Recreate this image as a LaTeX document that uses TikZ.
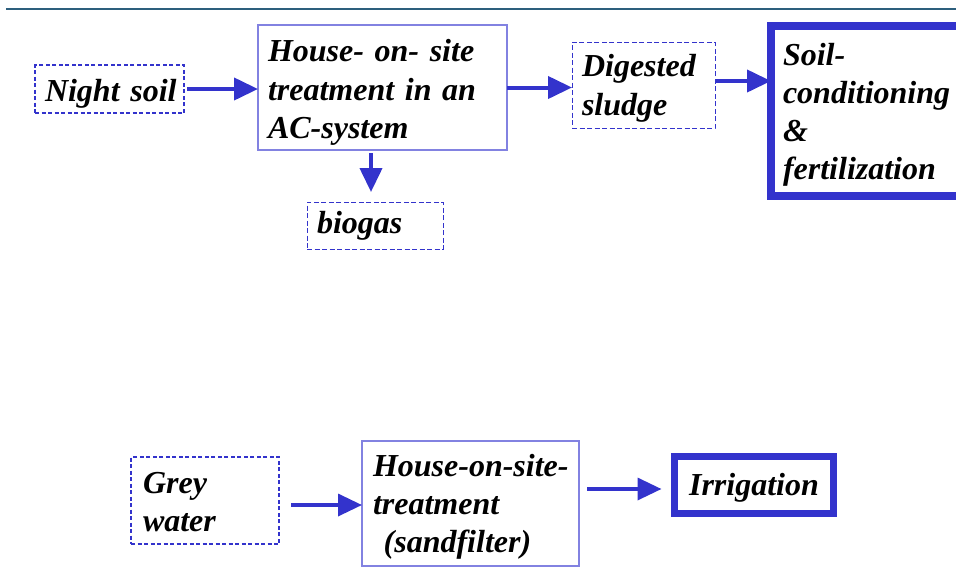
\documentclass[tikz,border=0pt]{standalone}
\usepackage{fontspec}
\setmainfont{Liberation Serif}
\usetikzlibrary{arrows.meta}
\definecolor{arrblue}{RGB}{51,51,204}
\definecolor{thinblue}{RGB}{130,130,225}
\definecolor{rulecol}{RGB}{45,95,125}
\begin{document}
\begin{tikzpicture}[x=1pt,y=-1pt,
  lbl/.style={font=\fontsize{32}{38.3}\selectfont\bfseries\itshape, align=left, outer sep=0pt, inner ysep=0pt, text height=25pt},
  dashbox/.style={lbl, draw=arrblue, line width=1.3pt, dash pattern=on 4pt off 2.5pt},
  dashthin/.style={lbl, draw=arrblue, line width=1pt, dash pattern=on 5pt off 2.5pt},
  thinbox/.style={lbl, draw=thinblue, line width=1.3pt},
  thickbox/.style={lbl, draw=arrblue, line width=8pt},
  arr/.style={draw=arrblue, line width=4pt, -{Triangle[length=24pt,width=22pt]}},
  arrb/.style={draw=arrblue, line width=3.5pt, -{Triangle[length=24pt,width=22pt]}}
]
\useasboundingbox (0,0) rectangle (956,582);
\clip (0,0) rectangle (956,582);
\draw[rulecol, line width=2pt] (6,9) -- (956,9);

\node[dashbox, minimum width=149, minimum height=48, text width=129, inner xsep=10, text depth=0pt] (night) at (109.5,89) {\mbox{Night soil}};
\node[thinbox, minimum width=249, minimum height=125, text width=229, inner xsep=10, text depth=76.6pt] (house) at (382.5,87.5) {\mbox{House- on- site}\\\mbox{treatment in an}\\AC-system};
\node[dashthin, minimum width=136, minimum height=47, text width=116, inner xsep=10, text depth=10pt] (biogas) at (375,225.5) {biogas};
\node[dashthin, minimum width=143, minimum height=86, text width=123, inner xsep=10, text depth=41.6pt] (dig) at (643.5,85) {Digested\\sludge};
\node[thickbox, minimum width=219, minimum height=170, text width=195, inner xsep=12, text depth=117pt] (soil) at (880.5,111) {Soil-\\conditioning\\\&\\fertilization};

\node[dashbox, minimum width=148, minimum height=87, text width=124, inner xsep=12, text depth=39.4pt] (grey) at (205,500.5) {Grey\\water};
\node[thinbox, minimum width=217, minimum height=125, text width=195, inner xsep=11, text depth=80pt] (sand) at (470.5,503.5) {\mbox{House-on-site-}\\treatment\\\mbox{\ (sandfilter)}};
\node[lbl, draw=arrblue, line width=7pt, minimum width=159, minimum height=57, text width=139, inner xsep=10, align=center, text depth=5pt] (irr) at (754,485) {Irrigation};

\draw[arr, shorten <=3pt] (night.east) -- (house.west |- night.east);
\draw[arr] (house.east) -- (dig.west |- house.east);
\draw[arr] ([yshift=4pt]dig.east) -- ([yshift=4pt]dig.east -| soil.west);
\draw[arr, shorten <=3pt, shorten >=10pt] ([xshift=-11.5pt]house.south) -- ([xshift=-11.5pt]house.south |- biogas.north);
\draw[arrb, shorten <=12pt] (grey.east |- 0,505) -- (sand.west |- 0,505);
\draw[arrb, shorten <=8pt, shorten >=13pt] ([yshift=-4pt]irr.west -| sand.east) -- ([yshift=-4pt]irr.west);
\end{tikzpicture}
\end{document}
